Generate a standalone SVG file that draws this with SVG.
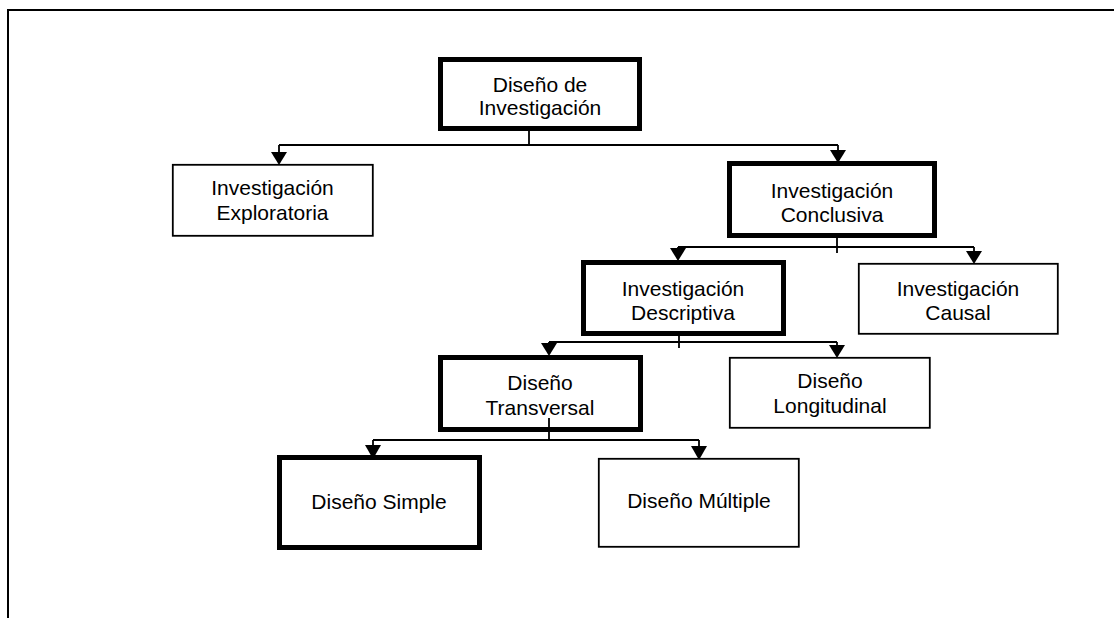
<svg xmlns="http://www.w3.org/2000/svg" width="1114" height="618" viewBox="0 0 1114 618">
  <defs>
    <style>
      .thick { fill: #fff; stroke: #000; stroke-width: 5; }
      .thin { fill: #fff; stroke: #000; stroke-width: 1.8; }
      .lbl { font-family: "Liberation Sans", Arial, sans-serif; font-size: 21px; fill: #000; text-anchor: middle; }
      .conn { fill: none; stroke: #000; stroke-width: 1.8; }
      .head { fill: #000; stroke: none; }
    </style>
  </defs>
  <rect x="0" y="0" width="1114" height="618" fill="#fff"/>
  <path d="M8 618 V10 H1114" fill="none" stroke="#000" stroke-width="2"/>

  <g id="connectors">
    <!-- root -->
    <path class="conn" d="M529 131 V145 M279 145 H838 M279 145 V154 M838 145 V152"/>
    <polygon class="head" points="271,152 287,152 279,165"/>
    <polygon class="head" points="830,150 846,150 838,163"/>
    <!-- conclusiva -->
    <path class="conn" d="M837 238 V253 M678 247 H974 M678 247 V250 M974 247 V253"/>
    <polygon class="head" points="670,248 686,248 678,261"/>
    <polygon class="head" points="966,251 982,251 974,264"/>
    <!-- descriptiva -->
    <path class="conn" d="M679 336 V348 M549 342 H837 M549 342 V345 M837 342 V347"/>
    <polygon class="head" points="541,343 557,343 549,356"/>
    <polygon class="head" points="829,345 845,345 837,358"/>
    <!-- transversal -->
    <path class="conn" d="M549 418 V440 M373 440 H699 M373 440 V446 M699 440 V448"/>
    <polygon class="head" points="365,445 381,445 373,459"/>
    <polygon class="head" points="691,446 707,446 699,460"/>
  </g>

  <g id="n-root">
    <rect class="thick" x="440.5" y="59.5" width="199" height="69"/>
    <text class="lbl" x="540" y="92">Diseño de</text>
    <text class="lbl" x="540" y="115">Investigación</text>
  </g>
  <g id="n-exploratoria">
    <rect class="thin" x="172.8" y="164.8" width="200" height="71"/>
    <text class="lbl" x="272.5" y="195">Investigación</text>
    <text class="lbl" x="272.5" y="220">Exploratoria</text>
  </g>
  <g id="n-conclusiva">
    <rect class="thick" x="729.5" y="163.5" width="205" height="72"/>
    <text class="lbl" x="832" y="198">Investigación</text>
    <text class="lbl" x="832" y="222">Conclusiva</text>
  </g>
  <g id="n-descriptiva">
    <rect class="thick" x="583.5" y="262.5" width="200" height="71"/>
    <text class="lbl" x="683" y="296">Investigación</text>
    <text class="lbl" x="683" y="320">Descriptiva</text>
  </g>
  <g id="n-causal">
    <rect class="thin" x="858.8" y="263.8" width="199" height="70"/>
    <text class="lbl" x="958" y="296">Investigación</text>
    <text class="lbl" x="958" y="320">Causal</text>
  </g>
  <g id="n-transversal">
    <rect class="thick" x="440.5" y="357.5" width="200" height="72"/>
    <text class="lbl" x="540" y="390">Diseño</text>
    <text class="lbl" x="540" y="415">Transversal</text>
  </g>
  <g id="n-longitudinal">
    <rect class="thin" x="729.8" y="357.8" width="200" height="70"/>
    <text class="lbl" x="830" y="388">Diseño</text>
    <text class="lbl" x="830" y="413">Longitudinal</text>
  </g>
  <g id="n-simple">
    <rect class="thick" x="279.5" y="457.5" width="200" height="90"/>
    <text class="lbl" x="379" y="509">Diseño Simple</text>
  </g>
  <g id="n-multiple">
    <rect class="thin" x="598.8" y="458.8" width="200" height="88"/>
    <text class="lbl" x="699" y="508">Diseño Múltiple</text>
  </g>
  <!-- stem overlapping transversal text -->
  <path d="M549 418 V432" stroke="#000" stroke-width="1.8"/>
</svg>
